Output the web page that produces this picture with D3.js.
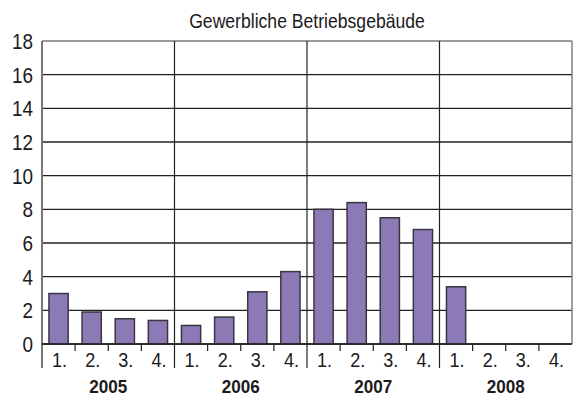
<!DOCTYPE html>
<html>
<head>
<meta charset="utf-8">
<script src="https://cdn.jsdelivr.net/npm/d3@7"></script>
<style>
  body { margin: 0; background: #fff; }
  text { font-family: "Liberation Sans", Arial, Helvetica, sans-serif; fill: #1c1a1b; }
</style>
</head>
<body>
<script>
// Data
const years = ['2005', '2006', '2007', '2008'];
const quarters = ['1.', '2.', '3.', '4.'];
const values = [
    [3.0, 1.9, 1.5, 1.4],
    [1.1, 1.6, 3.1, 4.3],
    [8.0, 8.4, 7.5, 6.8],
    [3.4, null, null, null]
];
const yTicks = [0, 2, 4, 6, 8, 10, 12, 14, 16, 18];
const title = 'Gewerbliche Betriebsgebäude';

// Dimensions
const width = 577;
const height = 401;
const margin = { top: 41, right: 5, bottom: 57, left: 42 };
const plotW = width - margin.left - margin.right;
const plotH = height - margin.top - margin.bottom;

// condensed look: squeeze text horizontally
const squeeze = 0.86;
const place = (x, y, sx) => `translate(${x},${y}) scale(${sx || squeeze},1)`;

const svg = d3.select('body')
    .append('svg')
    .attr('width', width)
    .attr('height', height);

const g = svg.append('g')
    .attr('transform', `translate(${margin.left},${margin.top})`);

// Scales
const xYear = d3.scaleBand()
    .domain(years)
    .range([0, plotW]);

const xQuarter = d3.scaleBand()
    .domain(quarters)
    .range([0, xYear.bandwidth()])
    .paddingInner(0.42)
    .paddingOuter(0.21);

const y = d3.scaleLinear()
    .domain([0, 18])
    .range([plotH, 0]);

// Gridlines
g.selectAll('line.grid')
    .data(yTicks)
    .enter()
    .append('line')
    .attr('class', 'grid')
    .attr('x1', 0)
    .attr('x2', plotW)
    .attr('y1', d => y(d))
    .attr('y2', d => y(d))
    .attr('stroke', d => d === 18 ? '#777' : '#222')
    .attr('stroke-width', 1.4);

// Right border
g.append('line')
    .attr('x1', plotW).attr('x2', plotW)
    .attr('y1', 0).attr('y2', plotH)
    .attr('stroke', '#777')
    .attr('stroke-width', 1.4);

// Year dividers (and left axis), extend below the baseline
g.selectAll('line.year')
    .data(years)
    .enter()
    .append('line')
    .attr('class', 'year')
    .attr('x1', d => xYear(d))
    .attr('x2', d => xYear(d))
    .attr('y1', 0)
    .attr('y2', plotH + 24)
    .attr('stroke', (d, i) => i === 0 ? '#777' : '#222')
    .attr('stroke-width', (d, i) => i === 0 ? 2 : 1.2);

// Quarter ticks
years.forEach(yr => {
    g.selectAll(null)
        .data(quarters.slice(1))
        .enter()
        .append('line')
        .attr('x1', q => xYear(yr) + xYear.bandwidth() / 4 * quarters.indexOf(q))
        .attr('x2', q => xYear(yr) + xYear.bandwidth() / 4 * quarters.indexOf(q))
        .attr('y1', plotH)
        .attr('y2', plotH + 7)
        .attr('stroke', '#222')
        .attr('stroke-width', 1.2);
});

// Bars
years.forEach((yr, i) => {
    const yearG = g.append('g')
        .attr('transform', `translate(${xYear(yr)},0)`);

    yearG.selectAll('rect')
        .data(values[i].map((v, j) => ({ q: quarters[j], v: v })).filter(d => d.v !== null))
        .enter()
        .append('rect')
        .attr('x', d => xQuarter(d.q))
        .attr('width', xQuarter.bandwidth())
        .attr('y', d => y(d.v))
        .attr('height', d => y(0) - y(d.v))
        .attr('fill', '#8c7ab7')
        .attr('stroke', '#3a3540')
        .attr('stroke-width', 1.5);

    // Quarter labels
    yearG.selectAll('text')
        .data(quarters)
        .enter()
        .append('text')
        .attr('transform', q => place(xQuarter(q) + xQuarter.bandwidth() / 2 + 1, plotH + 23))
        .attr('text-anchor', 'middle')
        .style('font-size', '21px')
        .text(q => q);

    // Year label
    yearG.append('text')
        .attr('transform', place(xYear.bandwidth() / 2, plotH + 49, 0.95))
        .attr('text-anchor', 'middle')
        .style('font-size', '18px')
        .style('font-weight', 'bold')
        .text(yr);
});

// Baseline on top
g.append('line')
    .attr('x1', 0).attr('x2', plotW)
    .attr('y1', y(0)).attr('y2', y(0))
    .attr('stroke', '#222')
    .attr('stroke-width', 1.6);

// Y tick labels
g.selectAll('text.ytick')
    .data(yTicks)
    .enter()
    .append('text')
    .attr('class', 'ytick')
    .attr('transform', d => place(-9, y(d)))
    .attr('dy', '0.36em')
    .attr('text-anchor', 'end')
    .style('font-size', '22px')
    .text(d => d);

// Title
svg.append('text')
    .attr('transform', place(margin.left + plotW / 2, 28, 0.88))
    .attr('text-anchor', 'middle')
    .style('font-size', '20px')
    .text(title);
</script>
</body>
</html>
